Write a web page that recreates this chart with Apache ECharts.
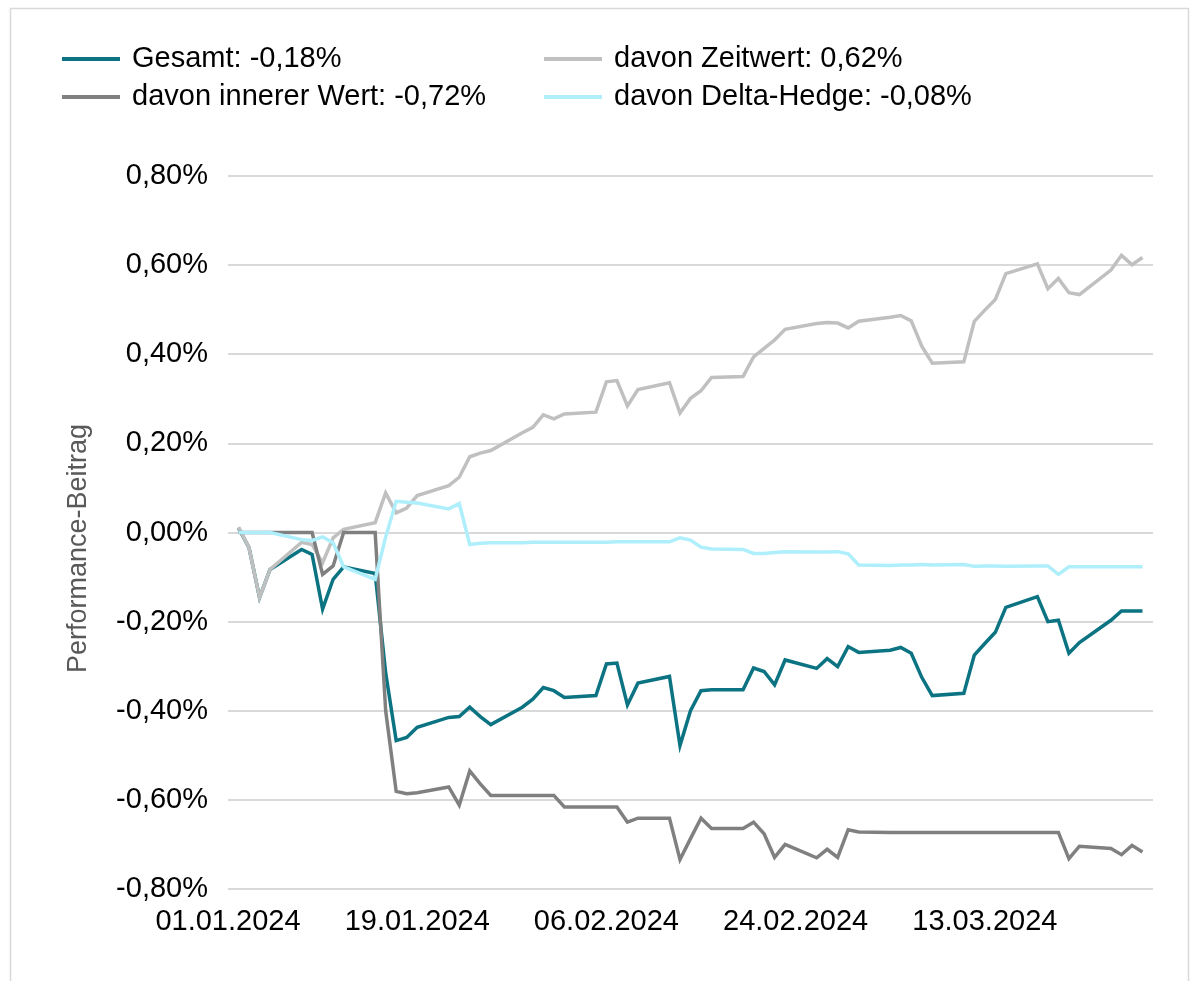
<!DOCTYPE html>
<html><head><meta charset="utf-8">
<script src="https://cdn.jsdelivr.net/npm/echarts@6/dist/echarts.min.js"></script>
<style>html,body{margin:0;padding:0;background:#fff}#c{width:1202px;height:981px}</style>
</head><body><div id="c"></div>
<script>
// Business days shown in the chart
const dates = [
 '02.01.2024','03.01.2024','04.01.2024','05.01.2024','08.01.2024','09.01.2024','10.01.2024','11.01.2024','12.01.2024',
 '15.01.2024','16.01.2024','17.01.2024','18.01.2024','19.01.2024','22.01.2024','23.01.2024','24.01.2024','25.01.2024','26.01.2024',
 '29.01.2024','30.01.2024','31.01.2024','01.02.2024','02.02.2024','05.02.2024','06.02.2024','07.02.2024','08.02.2024','09.02.2024',
 '12.02.2024','13.02.2024','14.02.2024','15.02.2024','16.02.2024','19.02.2024','20.02.2024','21.02.2024','22.02.2024','23.02.2024',
 '26.02.2024','27.02.2024','28.02.2024','29.02.2024','01.03.2024','04.03.2024','05.03.2024','06.03.2024','07.03.2024','08.03.2024',
 '11.03.2024','12.03.2024','13.03.2024','14.03.2024','15.03.2024','18.03.2024','19.03.2024','20.03.2024','21.03.2024','22.03.2024',
 '25.03.2024','26.03.2024','27.03.2024','28.03.2024'
];
// values in percent
const gesamt = [
 0.010,-0.034,-0.146,-0.083,-0.038,-0.049,-0.172,-0.105,-0.077,
 -0.092,-0.315,-0.467,-0.460,-0.437,-0.415,-0.413,-0.392,-0.413,-0.431,
 -0.392,-0.374,-0.348,-0.355,-0.370,-0.366,-0.295,-0.293,-0.387,-0.338,
 -0.323,-0.478,-0.400,-0.355,-0.353,-0.353,-0.304,-0.312,-0.342,-0.286,
 -0.305,-0.283,-0.301,-0.256,-0.269,-0.264,-0.258,-0.271,-0.325,-0.366,
 -0.361,-0.275,-0.249,-0.224,-0.168,-0.144,-0.200,-0.197,-0.271,-0.247,
 -0.197,-0.176,-0.176,-0.176
];
const zeitwert = [
 0.012,-0.034,-0.146,-0.083,-0.022,-0.027,-0.068,-0.012,0.007,
 0.022,0.089,0.044,0.055,0.083,0.105,0.124,0.170,0.178,0.184,
 0.224,0.236,0.264,0.255,0.266,0.270,0.338,0.341,0.284,0.321,
 0.336,0.268,0.301,0.318,0.348,0.350,0.394,0.413,0.432,0.456,
 0.469,0.471,0.470,0.459,0.474,0.483,0.487,0.475,0.418,0.380,
 0.383,0.474,0.499,0.523,0.581,0.603,0.547,0.570,0.538,0.534,
 0.589,0.622,0.601,0.617
];
const innererWert = [
 0,0,0,0,0,0,-0.094,-0.075,0,
 0,-0.400,-0.581,-0.586,-0.584,-0.571,-0.612,-0.535,-0.564,-0.590,
 -0.590,-0.590,-0.590,-0.590,-0.616,-0.616,-0.616,-0.616,-0.650,-0.641,
 -0.641,-0.734,-0.687,-0.641,-0.664,-0.664,-0.650,-0.676,-0.729,-0.700,
 -0.730,-0.711,-0.729,-0.667,-0.672,-0.673,-0.673,-0.673,-0.673,-0.673,
 -0.673,-0.673,-0.673,-0.673,-0.673,-0.673,-0.673,-0.673,-0.732,-0.704,
 -0.709,-0.723,-0.702,-0.717
];
const deltaHedge = [
 0,0,0,0,-0.016,-0.018,-0.010,-0.023,-0.077,
 -0.105,-0.010,0.070,0.068,0.066,0.053,0.065,-0.027,-0.024,-0.023,
 -0.023,-0.022,-0.022,-0.022,-0.022,-0.022,-0.022,-0.021,-0.021,-0.021,
 -0.021,-0.012,-0.017,-0.033,-0.037,-0.038,-0.047,-0.047,-0.045,-0.043,
 -0.044,-0.044,-0.043,-0.048,-0.073,-0.074,-0.073,-0.073,-0.072,-0.073,
 -0.072,-0.076,-0.075,-0.075,-0.076,-0.075,-0.075,-0.094,-0.077,-0.077,
 -0.077,-0.077,-0.077,-0.077
];
const seriesNames = ['Gesamt: -0,18%','davon Zeitwert: 0,62%','davon innerer Wert: -0,72%','davon Delta-Hedge: -0,08%'];
const seriesColors = ['#0b7382','#c0c0c0','#808080','#aeeffb'];
const yTicks = {min:-0.8, max:0.8, step:0.2};
const axisStartDate = '01.01.2024';
const axisEndDate = '29.03.2024';
const xTickStepDays = 18;

function toUTC(s){const p=s.split('.').map(Number);return Date.UTC(p[2],p[1]-1,p[0]);}
const t0 = toUTC(axisStartDate);
function dayIdx(s){return Math.round((toUTC(s)-t0)/86400000);}
function fmtDay(v){const d=new Date(t0+v*86400000);const dd=String(d.getUTCDate()).padStart(2,'0');const mm=String(d.getUTCMonth()+1).padStart(2,'0');return dd+'.'+mm+'.'+d.getUTCFullYear();}
const xs = dates.map(dayIdx);
function pairs(arr){return arr.map((v,i)=>[xs[i],v]);}

const FONT='"Liberation Sans", Arial, sans-serif';
const chart = echarts.init(document.getElementById('c'), null, {renderer:'canvas'});
const dataSets=[gesamt,zeitwert,innererWert,deltaHedge];
const legendPos=[[62,44],[544,44],[62,82],[544,82]];
chart.setOption({
  animation:false,
  backgroundColor:'#ffffff',
  graphic:[{type:'rect',shape:{x:10.5,y:8.5,width:1178,height:1000},style:{fill:'none',stroke:'#d9d9d9',lineWidth:1.5},silent:true}],
  legend: seriesNames.map((n,i)=>({
    data:[n], left:legendPos[i][0], top:legendPos[i][1], padding:0, icon:'rect', itemWidth:58, itemHeight:4,
    textStyle:{fontFamily:FONT,fontSize:29,color:'#000',lineHeight:30,padding:[0,0,0,7]}, selectedMode:false
  })),
  grid:{left:228,right:49,top:176,bottom:92,containLabel:false},
  xAxis:{type:'value',min:0,max:dayIdx(axisEndDate),interval:xTickStepDays,
    axisLine:{show:false},axisTick:{show:false},splitLine:{show:false},
    axisLabel:{fontFamily:FONT,fontSize:29,color:'#000',margin:18,showMaxLabel:false,
      formatter:v=> (v%xTickStepDays===0)?fmtDay(v):''}},
  yAxis:{type:'value',min:yTicks.min,max:yTicks.max,interval:yTicks.step,
    name:'Performance-Beitrag',nameLocation:'middle',nameGap:136,nameRotate:90,
    nameTextStyle:{fontFamily:FONT,fontSize:27,color:'#595959',padding:[0,32,0,0]},
    axisLine:{show:false},axisTick:{show:false},
    splitLine:{lineStyle:{color:'#d9d9d9',width:2}},
    axisLabel:{fontFamily:FONT,fontSize:29,color:'#000',margin:20,
      formatter:v=>v.toFixed(2).replace('.',',')+'%'}},
  series: dataSets.map((d,i)=>({
    name:seriesNames[i], type:'line', data:pairs(d), symbol:'none', showSymbol:false,
    lineStyle:{color:seriesColors[i],width:3.5,join:'miter'}, itemStyle:{color:seriesColors[i]}
  }))
});
</script></body></html>
